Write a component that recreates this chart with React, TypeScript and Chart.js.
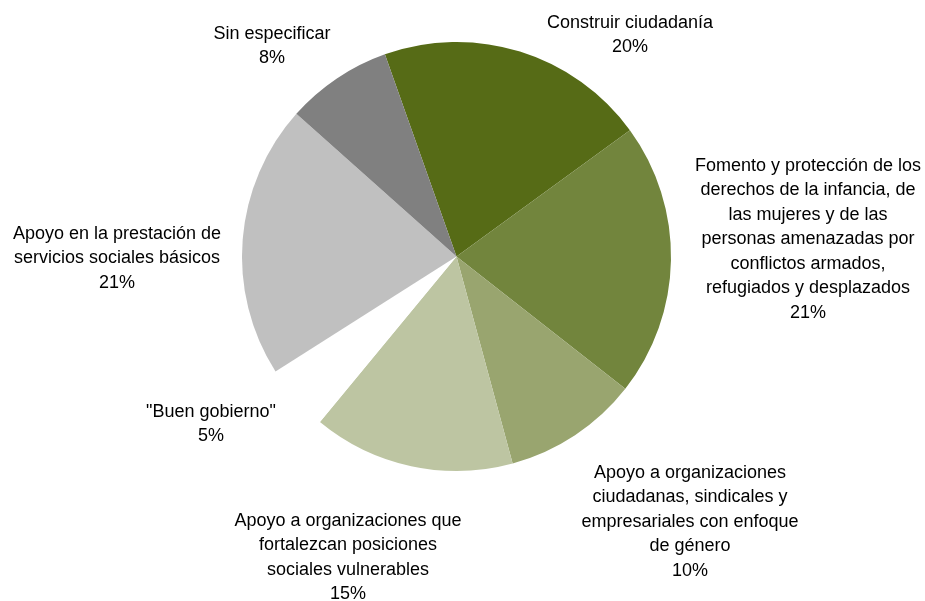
import React, { useEffect, useRef } from "react";
import { Chart, registerables } from "chart.js";

Chart.register(...registerables);

// ---- data ----
const categories: string[][] = [
  ["Construir ciudadanía"],
  ["Fomento y protección de los", "derechos de la infancia, de", "las mujeres y de las", "personas amenazadas por", "conflictos armados,", "refugiados y desplazados"],
  ["Apoyo a organizaciones", "ciudadanas, sindicales y", "empresariales con enfoque", "de género"],
  ["Apoyo a organizaciones que", "fortalezcan posiciones", "sociales vulnerables"],
  ["\"Buen gobierno\""],
  ["Apoyo en la prestación de", "servicios sociales básicos"],
  ["Sin especificar"],
];
const values: number[] = [20.4, 20.6, 10.2, 15.2, 5.0, 20.6, 8.0];
const colors: string[] = ["#566B16", "#72853D", "#99A56F", "#BDC5A2", "#FFFFFF", "#C0C0C0", "#808080"];

// ---- layout for labels (center x, first line y) ----
const labelAnchors: [number, number][] = [
  [630, 23],
  [808, 166],
  [690, 473],
  [348, 521],
  [211, 412],
  [117, 234],
  [272, 34],
];
const LINE_H = 24.5;
const FONT = "18px 'Liberation Sans', Arial, sans-serif";

const labelPlugin = {
  id: "outerLabels",
  afterDraw(chart: any) {
    const ctx = chart.ctx;
    const data = chart.data.datasets[0].data as number[];
    const total = data.reduce((a, b) => a + b, 0);
    ctx.save();
    ctx.font = FONT;
    ctx.fillStyle = "#000";
    ctx.textAlign = "center";
    ctx.textBaseline = "middle";
    categories.forEach((lines, i) => {
      const pct = Math.round((data[i] / total) * 100) + "%";
      const all = [...lines, pct];
      const [x, y] = labelAnchors[i];
      all.forEach((t, j) => ctx.fillText(t, x, y + j * LINE_H));
    });
    ctx.restore();
  },
};

export default function App() {
  const ref = useRef<HTMLCanvasElement>(null);
  useEffect(() => {
    if (!ref.current) return;
    const chart = new Chart(ref.current, {
      type: "pie",
      data: {
        labels: categories.map((c) => c.join(" ")),
        datasets: [
          {
            data: values,
            backgroundColor: colors,
            borderWidth: 0,
          },
        ],
      },
      options: {
        responsive: false,
        animation: false,
        rotation: -19.5,
        layout: { padding: { left: 242, right: 254, top: 42, bottom: 130 } },
        plugins: {
          legend: { display: false },
          tooltip: { enabled: false },
        },
      },
      plugins: [labelPlugin],
    });
    return () => chart.destroy();
  }, []);
  return (
    <div style={{ position: "fixed", left: 0, top: 0, width: 925, height: 601, background: "#fff" }}>
      <canvas ref={ref} width={925} height={601} />
    </div>
  );
}
